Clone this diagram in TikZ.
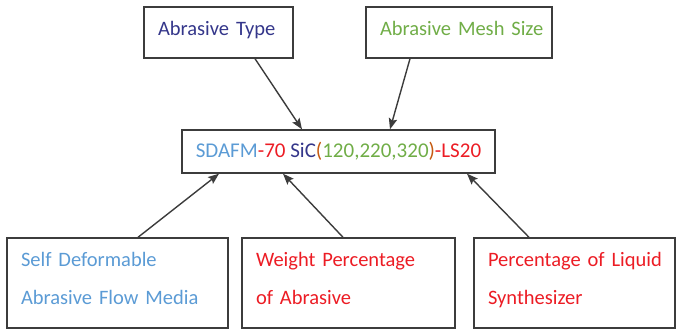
\documentclass[tikz,border=0pt]{standalone}
\usepackage{fontspec}
\setmainfont{Carlito}
\usepackage{tikz}
\usetikzlibrary{arrows.meta}
\definecolor{abnavy}{RGB}{52,54,138}
\definecolor{abgreen}{RGB}{112,173,71}
\definecolor{abblue}{RGB}{91,155,213}
\definecolor{abred}{RGB}{236,28,36}
\definecolor{abbrown}{RGB}{197,90,17}
\definecolor{abline}{RGB}{60,60,60}
\tikzstyle{labelbox}=[draw=abline, line width=1.4pt, inner xsep=14pt, inner ysep=0pt, align=left, font=\fontsize{20.5}{38}\selectfont]
\tikzstyle{codebox}=[draw=abline, line width=1.4pt, inner sep=0pt, font=\fontsize{21}{24}\selectfont]
\tikzstyle{pointer}=[abline, line width=1.4pt, -{Stealth[length=11pt,width=8.5pt,inset=2pt]}]
\newcommand{\lowstrut}{\rule[-9pt]{0pt}{9pt}}

\begin{document}
\begin{tikzpicture}[x=1pt, y=-1pt]
    \useasboundingbox (0,0) rectangle (677,329);

    %top boxes
    \node [labelbox, text width=121pt, minimum height=51pt, text=abnavy] (type) at (218.5,32.5) {\mbox{Abrasive Type}\lowstrut};
    \node [labelbox, text width=158pt, minimum height=51pt, text=abgreen] (mesh) at (459,32.5) {\mbox{Abrasive Mesh Size}\lowstrut};

    %designation
    \node [codebox, minimum width=313pt, minimum height=43pt] (code) at (338.5,151.5) {{\color{abblue}SDAFM}{\color{abred}-70} {\color{abnavy}SiC}{\color{abbrown}(}{\color{abgreen}120,220,320}{\color{abbrown})}{\color{abred}-LS20}};

    %bottom boxes
    \node [labelbox, text width=193pt, minimum height=90pt, text=abblue] (media) at (117.5,283) {\mbox{Self Deformable}\\\mbox{Abrasive Flow Media}\lowstrut};
    \node [labelbox, text width=185pt, minimum height=90pt, text=abred] (weight) at (348.5,283) {\mbox{Weight Percentage}\\\mbox{of Abrasive}\lowstrut};
    \node [labelbox, text width=173pt, minimum height=90pt, text=abred] (liquid) at (574.5,283) {\mbox{Percentage of Liquid}\\\mbox{Synthesizer}\lowstrut};

    %pointers
    \foreach \src/\ssh/\dst/\dsh in {type.south/36.5/code.north/-36.5, mesh.south/-49/code.north/51.5, media.north/20.5/code.south/-119.5, weight.north/-5.5/code.south/-55.5, liquid.north/-45.5/code.south/128.5} {
    \draw [pointer] ([xshift=\ssh pt]\src) -- ([xshift=\dsh pt]\dst);
    }

\end{tikzpicture}
\end{document}
